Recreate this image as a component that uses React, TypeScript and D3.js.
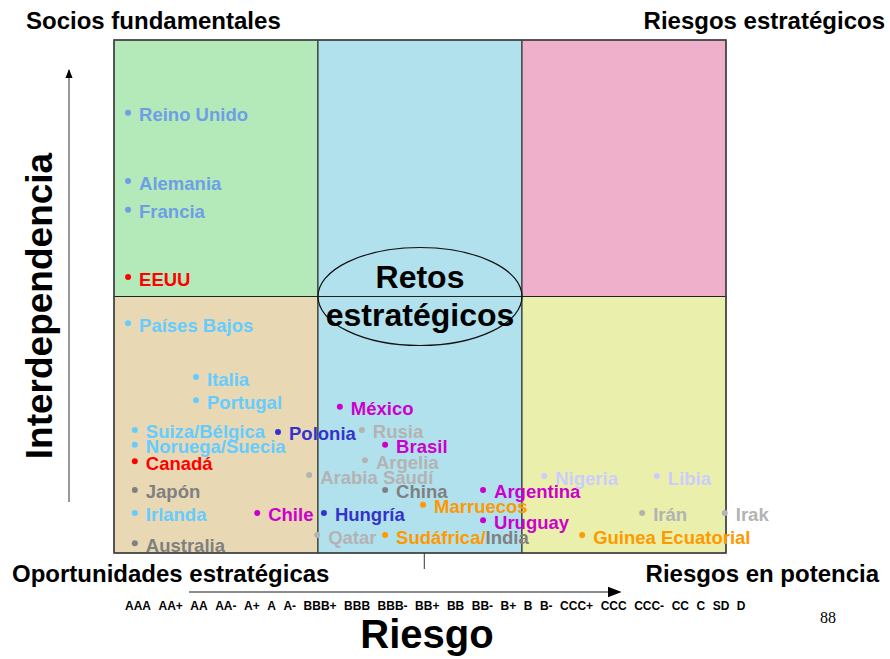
import React from 'react';
import * as d3 from 'd3';

const paises = [
  'Reino Unido', 'Alemania', 'Francia', 'EEUU', 'Países Bajos', 'Italia', 'Portugal',
  'Suiza/Bélgica', 'Noruega/Suecia', 'Canadá', 'Japón', 'Irlanda', 'Australia',
  'Polonia', 'Chile', 'México', 'Rusia', 'Brasil', 'Argelia', 'Arabia Saudí', 'China',
  'Hungría', 'Qatar', 'Sudáfrica/India', 'Marruecos', 'Argentina', 'Uruguay',
  'Nigeria', 'Libia', 'Irán', 'Irak', 'Guinea Ecuatorial',
];
const riesgo = [
  2.3, 2.3, 2.3, 2.3, 2.3, 13.4, 13.4,
  3.4, 3.4, 3.4, 3.4, 3.4, 3.4,
  26.8, 23.4, 36.9, 40.5, 44.3, 41.0, 31.9, 44.3,
  34.3, 33.2, 44.3, 50.5, 60.3, 60.3,
  70.3, 88.7, 86.3, 99.8, 76.5,
];
const interdependencia = [
  85.8, 72.5, 66.9, 53.8, 44.8, 34.3, 29.8,
  24.0, 21.1, 17.9, 12.3, 7.8, 1.9,
  23.6, 7.8, 28.5, 24.0, 21.1, 18.1, 15.2, 12.3,
  7.8, 3.5, 3.5, 9.4, 12.3, 6.4,
  15.0, 15.0, 7.8, 7.8, 3.5,
];
const grupos = [
  'azul', 'azul', 'azul', 'rojo', 'celeste', 'celeste', 'celeste',
  'celeste', 'celeste', 'rojo', 'gris', 'celeste', 'gris',
  'azulOscuro', 'magenta', 'magenta', 'grisClaro', 'magenta', 'grisClaro', 'grisClaro', 'gris',
  'azulOscuro', 'grisClaro', 'naranja', 'naranja', 'magenta', 'magenta',
  'lavanda', 'lavanda', 'grisClaro', 'grisClaro', 'naranja',
];
// segunda parte de etiquetas compuestas con otro color
const segundoGrupo: Record<string, string> = { 'Sudáfrica/India': 'gris' };

const calificaciones = [
  'AAA', 'AA+', 'AA', 'AA-', 'A+', 'A', 'A-', 'BBB+', 'BBB', 'BBB-', 'BB+', 'BB', 'BB-',
  'B+', 'B', 'B-', 'CCC+', 'CCC', 'CCC-', 'CC', 'C', 'SD', 'D',
];

const cuadrantes = [
  { x0: 0, x1: 1, y0: 1, y1: 2, fill: '#b4e9b9' },
  { x0: 1, x1: 2, y0: 1, y1: 2, fill: '#b2e1ee' },
  { x0: 2, x1: 3, y0: 1, y1: 2, fill: '#eeb0ca' },
  { x0: 0, x1: 1, y0: 0, y1: 1, fill: '#e8d9b4' },
  { x0: 1, x1: 2, y0: 0, y1: 1, fill: '#b2e1ee' },
  { x0: 2, x1: 3, y0: 0, y1: 1, fill: '#eaf0ab' },
];

const colores: Record<string, string> = {
  azul: '#6e9fe6',
  celeste: '#66ccff',
  rojo: '#ff0000',
  azulOscuro: '#3333cc',
  magenta: '#cc00cc',
  grisClaro: '#b3b3b3',
  gris: '#808080',
  lavanda: '#ccccff',
  naranja: '#ff9900',
};

const W = 890;
const H = 659;
const FONT = '"Liberation Sans", Arial, Helvetica, sans-serif';

export default function App() {
  const x = d3.scaleLinear().domain([0, 100]).range([114, 726]);
  const y = d3.scaleLinear().domain([0, 100]).range([553, 40]);
  const qx = d3.scaleLinear().domain([0, 3]).range(x.range());
  const qy = d3.scaleLinear().domain([0, 2]).range(y.range());

  return (
    <svg width={W} height={H} style={{ position: 'absolute', left: 0, top: 0 }} fontFamily={FONT}>
      <defs>
        <marker id="flecha" viewBox="0 0 10 10" refX="9" refY="5" markerWidth="9" markerHeight="9" orient="auto">
          <path d="M0,1 L10,5 L0,9 z" fill="#000" />
        </marker>
      </defs>
      <rect width={W} height={H} fill="#fff" />

      {/* cuadrantes */}
      {cuadrantes.map((c, i) => (
        <rect key={i} x={qx(c.x0)} y={qy(c.y1)} width={qx(c.x1) - qx(c.x0)} height={qy(c.y0) - qy(c.y1)}
          fill={c.fill} stroke="#222" strokeWidth={1} />
      ))}
      <rect x={qx(0)} y={qy(2)} width={qx(3) - qx(0)} height={qy(0) - qy(2)} fill="none" stroke="#444" strokeWidth={1.5} />

      {/* elipse central */}
      <ellipse cx={x(50)} cy={y(50)} rx={x(50) - qx(1)} ry={49} fill="none" stroke="#111" strokeWidth={1.2} />
      <text x={x(50)} y={y(50) - 9} textAnchor="middle" fontSize={32} fontWeight="bold">Retos</text>
      <text x={x(50)} y={y(50) + 29} textAnchor="middle" fontSize={32} fontWeight="bold">estratégicos</text>

      {/* países */}
      {paises.map((p, i) => {
        const cx = x(riesgo[i]);
        const cy = y(interdependencia[i]);
        const col = colores[grupos[i]];
        const seg = segundoGrupo[p];
        const partes = seg ? [p.slice(0, p.indexOf('/') + 1), p.slice(p.indexOf('/') + 1)] : [p];
        return (
          <g key={p}>
            <circle cx={cx} cy={cy} r={3} fill={col} />
            <text x={cx + 11} y={cy + 8.5} fontSize={18.5} fontWeight="bold" fill={col}>
              {partes.map((t, j) => (
                <tspan key={j} fill={j === 0 ? col : colores[seg]}>{t}</tspan>
              ))}
            </text>
          </g>
        );
      })}

      {/* marca central inferior */}
      <line x1={x(50.7)} x2={x(50.7)} y1={y(0)} y2={y(0) + 16} stroke="#333" strokeWidth={1} />

      {/* ejes con flecha */}
      <line x1={69} x2={69} y1={502} y2={70} stroke="#333" strokeWidth={1} markerEnd="url(#flecha)" />
      <line x1={189} x2={620} y1={592} y2={592} stroke="#666" strokeWidth={1.5} markerEnd="url(#flecha)" />

      {/* títulos de esquina */}
      <text x={26} y={29} fontSize={24} fontWeight="bold">Socios fundamentales</text>
      <text x={885} y={29} fontSize={24} fontWeight="bold" textAnchor="end">Riesgos estratégicos</text>
      <text x={12} y={582} fontSize={24} fontWeight="bold">Oportunidades estratégicas</text>
      <text x={879} y={582} fontSize={24} fontWeight="bold" textAnchor="end">Riesgos en potencia</text>

      {/* calificaciones */}
      <text x={125} y={610} fontSize={12} fontWeight="bold">
        {calificaciones.map((c, i) => (
          <tspan key={c} dx={i === 0 ? 0 : 7.5}>{c}</tspan>
        ))}
      </text>

      <text x={427} y={648} fontSize={40} fontWeight="bold" textAnchor="middle">Riesgo</text>
      <text transform="translate(52,306) rotate(-90)" fontSize={37} fontWeight="bold" textAnchor="middle">Interdependencia</text>
      <text x={828} y={623} fontSize={16} fontFamily='"Liberation Serif", "Times New Roman", serif' textAnchor="middle">88</text>
    </svg>
  );
}
